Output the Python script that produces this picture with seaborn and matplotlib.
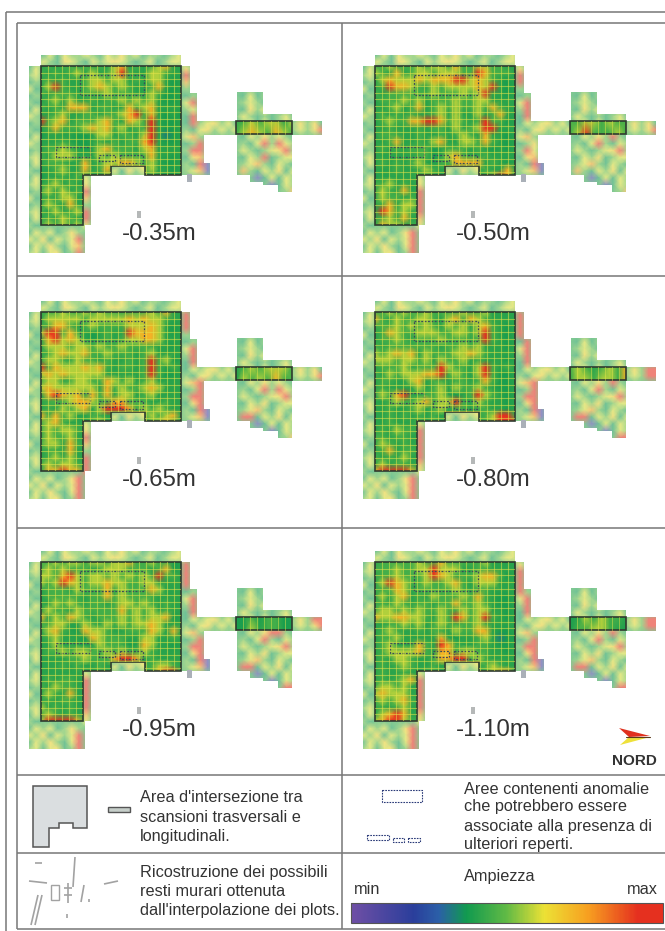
"""
Sezioni GPR a diverse profondita' - mappe di ampiezza con legenda
"""

import numpy as np
import matplotlib
matplotlib.use('Agg')
import matplotlib.pyplot as plt
from matplotlib.colors import LinearSegmentedColormap, to_rgb
from matplotlib.patches import Polygon, Rectangle, PathPatch
from matplotlib.path import Path
from matplotlib.transforms import Affine2D
import seaborn as sns

DEPTHS = ['-0.35m', '-0.50m', '-0.65m', '-0.80m', '-0.95m', '-1.10m']

# amplitude classes, one char per cell ('.' = no data)
BUILD_035 = ["56566565657856567855", "65656757567965577655", "56565567767756577545", "57965567876765568545",
             "65666566676665576445", "56757556566767675445", "65658885665586785555", "55675566566789685454",
             "96785666786587695445", "56866678786756695445", "45555445775665795345", "55565445656566895445",
             "56676545786665785555", "65777555767666685545", "56665585677887675445", "5567558568.....75545",
             "4556565656.....55445", "567565", "675756", "565775", "576585", "657567", "565765", "676767"]
BUILD_050 = ["66766676776866776655", "76585677677766986665", "57877787888997876545", "56988765767777879545",
             "65666666766676795545", "56667675666766775555", "55675685676766768655", "56565655675755756855",
             "56766889986765696645", "55655565665756799555", "56665565565676585545", "55685565785577686545",
             "56565666456665654545", "55555566457865565555", "56565675466888856545", "5556556765.....65585",
             "4555556565.....67985", "667565", "576585", "576656", "568577", "598676", "567585", "587756"]
BUILD_065 = ["56676676766566676855", "57777767777787877655", "56886567666677787545", "79968654565598887545",
             "58978754565677887555", "57776776766766665545", "56787786676665675555", "57765766565565696745",
             "96877787865665696565", "78787777755555696445", "67756776687675675555", "78777777586766787555",
             "58987858685775675555", "56667887668866655655", "56576785799986767655", "8686755665.....76785",
             "6786555675.....67865", "676776", "576675", "677586", "566585", "567575", "676776", "588988"]
BUILD_080 = ["66767667666676675555", "86576677657868765555", "66676767657675786545", "56876677766776796545",
             "56676566676665696545", "65666666656676755545", "76787857666778765555", "77767767576675655545",
             "56667566697665796565", "65767778896765796445", "56655785665665686445", "56555575675766765445",
             "57689556675456976545", "55676678677965765545", "55655675675665665545", "5565656565.....67996",
             "5565556565.....67999", "565766", "665665", "576565", "568566", "656575", "575665", "899998"]
BUILD_095 = ["66767767767786676645", "67676665677766656845", "77689767767676769665", "76798767787766775555",
             "56665766685766687555", "56666656686766665555", "55767656656776765655", "57665766666867675655",
             "85768765666767677845", "66775576576767787555", "57865487765566687585", "56755548766655775565",
             "55755545766645875545", "56676776676766765555", "55556676668998565555", "5556565565.....67765",
             "5555556565.....68996", "565665", "657665", "576585", "565665", "756565", "676565", "799998"]
BUILD_110 = ["56666676686666675555", "66676677977755665555", "56676667987566788645", "57987667667865777555",
             "56687566666765665555", "57578565766676865445", "56576566566866765445", "67767676676676775545",
             "87788776576986796545", "55667675676666765555", "56765565665766885445", "56675555585455675344",
             "56755586598655665445", "56777786588677665545", "56577655688996765555", "5656765565.....67655",
             "5655655665.....67885", "565678", "677675", "787775", "676786", "565675", "578985", "789976"]
BUILDS = [BUILD_035, BUILD_050, BUILD_065, BUILD_080, BUILD_095, BUILD_110]

# second intersection area (the small box on the right)
BOXES = [["56767757", "67876876"], ["66776766", "67966676"], ["46767776", "47676866"],
         ["67656768", "57767768"], ["44646644", "44756644"], ["45757665", "46677654"]]

# single-scan coverage around the building, about the same at every depth
OUTER = ["..46465565465756455456",
         "..65476546567654564566",
         "46....................7",
         "56....................6",
         "45....................8",
         "64....................5",
         "45....................45......4645",
         "54....................69......5654",
         "46....................56......4756",
         "65....................49......65454564",
         "45....................46567564564645657574",
         "54....................54675656456756456579",
         "46....................685.....46575654",
         "65....................457.....54695465",
         "45....................596.....65456795",
         "56....................478.....46574566",
         "46..........47567.....5491....56854654",
         "54..........64756.....5681....85465746",
         "46......6.......................146465",
         "56......7.........................1465",
         "45......9...........................58",
         "64......8",
         "45......5",
         "56......9",
         "46......8",
         "54......6",
         "46564575",
         "65746569",
         "46575468",
         "56467459"]

# pink patches of the outer scans, (row, col) per depth
HOT_035 = [(3, 22), (10, 23), (13, 24), (14, 24), (13, 35), (15, 33), (24, 8), (27, 7)]
HOT_050 = [(3, 22), (4, 22), (7, 23), (8, 23), (12, 35), (21, 8), (22, 8), (26, 7), (27, 7), (28, 7), (29, 7)]
HOT_065 = [(2, 22), (3, 22), (4, 22), (7, 23), (8, 23), (12, 24), (13, 24), (14, 24), (15, 24), (13, 35),
           (17, 30), (17, 31), (24, 8), (25, 8), (26, 7), (27, 7), (28, 7), (29, 7)]
HOT_080 = [(2, 22), (3, 22), (4, 22), (5, 22), (6, 23), (7, 23), (8, 23), (12, 24), (13, 24), (14, 24), (15, 24),
           (11, 35), (12, 35), (19, 8), (20, 8), (21, 8), (22, 8), (23, 8), (26, 7), (27, 7), (28, 7), (29, 7),
           (20, 36), (20, 37), (10, 40), (10, 41), (11, 40), (11, 41), (17, 30), (17, 31)]
HOT_095 = [(2, 22), (3, 22), (4, 22), (5, 22), (7, 23), (8, 23), (13, 24), (14, 24), (15, 24), (19, 8), (20, 8),
           (21, 8), (22, 8), (23, 8), (27, 7), (28, 7), (29, 7), (10, 40), (10, 41), (11, 41), (17, 30), (17, 31),
           (20, 36), (20, 37), (12, 34), (12, 35)]
HOT_110 = [(3, 22), (4, 22), (5, 22), (6, 22), (8, 23), (9, 23), (13, 24), (14, 24), (15, 24), (19, 8), (20, 8),
           (21, 8), (22, 8), (23, 8), (26, 7), (27, 7), (28, 7), (29, 7), (10, 40), (10, 41), (11, 40), (11, 41),
           (17, 30), (17, 31), (20, 36), (20, 37), (12, 35)]
HOTS = [HOT_035, HOT_050, HOT_065, HOT_080, HOT_095, HOT_110]

# colour position of each amplitude class on the scale
LEVELS = [0.0, 0.11, 0.22, 0.33, 0.385, 0.41, 0.45, 0.57, 0.72, 1.0]
OUTER_LEVELS = [0.0, 0.11, 0.22, 0.33, 0.37, 0.5, 0.6, 0.66, 0.76, 1.0]

SCALE_STOPS = [(0.0, '#6f4fa5'), (0.2, '#2a3e9b'), (0.28, '#2b5fa8'), (0.37, '#119a4f'), (0.5, '#62ba45'),
               (0.62, '#ece135'), (0.76, '#f7a020'), (0.92, '#e5301f'), (1.0, '#e5301f')]

LEGEND_1 = ["Area d'intersezione tra", "scansioni trasversali e", "longitudinali."]
LEGEND_2 = ["Aree contenenti anomalie", "che potrebbero essere", "associate alla presenza di", "ulteriori reperti."]
LEGEND_3 = ["Ricostruzione dei possibili", "resti murari ottenuta", "dall'interpolazione dei plots."]

W, H = 665, 931
FRAME = '#777777'
INK = '#333333'
NAVY = '#2a3a78'

# building corners of each panel, in pixels
ORIGINS = [(41, 66), (375, 66), (41, 312), (375, 312), (41, 562), (375, 562)]

BUILDING_OUTLINE = [(0, 0), (140, 0), (140, 109), (104, 109), (104, 100), (70, 100), (70, 109), (42, 109),
                    (42, 159), (0, 159)]
# covered area of the outer scans, rectangles relative to the building corner
OUTER_AREA = [(0, -11, 140, 11), (-12, 0, 12, 187), (0, 0, 140, 109), (0, 109, 50, 50), (-12, 159, 56, 28),
              (140, 0, 9, 109), (149, 27, 7, 82), (156, 69, 7, 40), (163, 97, 6, 12), (156, 55, 125, 14),
              (196, 26, 26, 22), (196, 48, 55, 61), (209, 109, 42, 7), (222, 109, 29, 10), (237, 109, 14, 17)]

cmap = LinearSegmentedColormap.from_list('ampiezza', SCALE_STOPS)
# same scale washed out, the single scans look like this
pastel = LinearSegmentedColormap.from_list(
    'ampiezza_pastel', [(p, tuple(0.6 * np.array(to_rgb(c)) + 0.4)) for p, c in SCALE_STOPS])


def to_grid(rows, width, levels=LEVELS):
    """Turn the char rows into a float array of colour positions"""
    grid = np.full((len(rows), width), 0.42)
    for r, row in enumerate(rows):
        for c, ch in enumerate(row):
            if ch != '.':
                grid[r, c] = levels[int(ch)]
    return grid


def pixel_axes(fig, x, y, w, h):
    return fig.add_axes([x / W, 1 - (y + h) / H, w / W, h / H])


def draw_map(fig, grid, box, clip, colors):
    ax = pixel_axes(fig, *box)
    sns.heatmap(grid, ax=ax, cmap=colors, vmin=0, vmax=1, cbar=False, shading='gouraud',
                xticklabels=False, yticklabels=False)
    ax.set_xlim(0, grid.shape[1] - 1)
    ax.set_ylim(grid.shape[0] - 1, 0)
    ax.axis('off')
    ax.collections[0].set_clip_path(clip)
    return ax


def draw_panel(fig, over, i):
    x0, y0 = ORIGINS[i]

    # outer scans, pastel
    outer = to_grid(OUTER, 42, OUTER_LEVELS)
    for r, c in HOTS[i]:
        outer[r, c] = 1.0
    paths = [Path.unit_rectangle().transformed(Affine2D().scale(w, h).translate(x0 + a, y0 + b))
             for a, b, w, h in OUTER_AREA]
    area = PathPatch(Path.make_compound_path(*paths), transform=over.transData)
    draw_map(fig, outer, (x0 - 12, y0 - 11, 293, 198), area, pastel)

    # building + right box, saturated
    shape = Polygon([(x0 + a, y0 + b) for a, b in BUILDING_OUTLINE], closed=True, transform=over.transData)
    draw_map(fig, to_grid(BUILDS[i], 20), (x0, y0, 140, 159), shape, cmap)
    box = Rectangle((x0 + 195, y0 + 55), 56, 13, transform=over.transData)
    draw_map(fig, to_grid(BOXES[i], 8), (x0 + 195, y0 + 55, 56, 13), box, cmap)

    # scan grid over the building
    grid_clip = Polygon([(x0 + a, y0 + b) for a, b in BUILDING_OUTLINE], closed=True, transform=over.transData)
    for k in range(1, 20):
        line, = over.plot([x0 + k * 7, x0 + k * 7], [y0, y0 + 159], color='#e4e34a', lw=0.8, alpha=0.55)
        line.set_clip_path(grid_clip)
    for k in range(1, 24):
        line, = over.plot([x0, x0 + 140], [y0 + k * 6.625, y0 + k * 6.625], color='#e4e34a', lw=0.8, alpha=0.55)
        line.set_clip_path(grid_clip)
    for k in range(1, 8):
        over.plot([x0 + 195 + k * 7, x0 + 195 + k * 7], [y0 + 55, y0 + 68], color='#e4e34a', lw=0.7, alpha=0.5)

    # outlines
    over.add_patch(Polygon([(x0 + a, y0 + b) for a, b in BUILDING_OUTLINE], closed=True, fill=False, ec='#2f3a2f', lw=1.2))
    over.add_patch(Rectangle((x0 + 195, y0 + 55), 56, 13, fill=False, ec='#2f3a2f', lw=1.2))

    # dashed anomaly boxes
    for a, b, w, h in [(39, 9, 64, 20), (15, 81, 34, 10), (58, 89, 16, 6), (79, 89, 23, 8)]:
        over.add_patch(Rectangle((x0 + a, y0 + b), w, h, fill=False, ec='#3c4a5a', lw=0.9, ls=(0, (1.5, 1.2))))

    # grey markers
    over.add_patch(Rectangle((x0 + 96, y0 + 145), 4, 7, fc='#b5b8b8', ec='none'))
    over.add_patch(Rectangle((x0 + 146, y0 + 108), 5, 8, fc='#aab0b8', ec='none'))

    over.text(x0 + 118, y0 + 174, DEPTHS[i], fontsize=17.3, color=INK, ha='center', va='baseline')


def draw_frame(over):
    lines = [((6, 12), (665, 12)), ((6, 12), (6, 931)), ((17, 23), (665, 23)), ((17, 23), (17, 929)),
             ((17, 929), (665, 929)), ((342, 23), (342, 929)), ((17, 276), (665, 276)), ((17, 528), (665, 528)),
             ((17, 775), (665, 775)), ((17, 853), (665, 853))]
    for (xa, ya), (xb, yb) in lines:
        over.plot([xa, xb], [ya, yb], color=FRAME, lw=1.1, solid_capstyle='butt')


def draw_legend(fig, over):
    # building icon
    icon = [(33, 786), (87, 786), (87, 828), (73, 828), (73, 823), (59, 823), (59, 828), (49, 828), (49, 847), (33, 847)]
    over.add_patch(Polygon(icon, closed=True, fc='#dadee0', ec='#555555', lw=1.1))
    over.add_patch(Rectangle((108, 807), 22, 5, fc='#c6cec9', ec='#555555', lw=1.0))

    for line, y in zip(LEGEND_1, [798, 817, 836]):
        over.text(140, y, line, fontsize=11.7, color=INK, va='center')
    for line, y in zip(LEGEND_2, [789, 807, 826, 845]):
        over.text(464, y, line, fontsize=11.7, color=INK, va='center')
    for line, y in zip(LEGEND_3, [872, 891, 910]):
        over.text(140, y, line, fontsize=11.7, color=INK, va='center')

    # anomaly symbols
    for a, b, w, h in [(382, 790, 40, 12), (367, 835, 22, 5), (393, 838, 11, 4), (408, 838, 12, 4)]:
        over.add_patch(Rectangle((a, b), w, h, fill=False, ec=NAVY, lw=0.8, ls=(0, (1.5, 1.0))))

    # wall reconstruction sketch
    walls = [((35, 42), (863, 863)), ((75, 73), (857, 887)), ((29, 47), (881, 883)), ((68, 68), (883, 903)),
             ((64, 72), (888, 888)), ((64, 72), (895, 895)), ((84, 81), (885, 902)), ((104, 118), (884, 881)),
             ((42, 35), (895, 925)), ((38, 31), (895, 925)), ((67, 67), (914, 918)), ((89, 89), (899, 902))]
    for xs, ys in walls:
        over.plot(xs, ys, color='#a2a2a2', lw=1.2, solid_capstyle='butt')
    over.add_patch(Rectangle((51, 885), 8, 15, fill=False, ec='#a2a2a2', lw=1.0))

    # amplitude scale
    over.text(464, 877, 'Ampiezza', fontsize=11.7, color=INK, va='center')
    over.text(354, 889, 'min', fontsize=11.7, color=INK, va='center')
    over.text(658, 889, 'max', fontsize=11.7, color=INK, va='center', ha='right')
    ax = pixel_axes(fig, 351, 903, 312, 20)
    sns.heatmap(np.linspace(0, 1, 256)[None, :], ax=ax, cmap=cmap, vmin=0, vmax=1, cbar=False,
                xticklabels=False, yticklabels=False)
    ax.axis('off')
    over.add_patch(Rectangle((351, 903), 312, 20, fill=False, ec='#555555', lw=0.8))

    # north arrow
    over.add_patch(Polygon([(619, 728), (650, 736), (629, 737)], closed=True, fc='#e0301e', ec='none'))
    over.add_patch(Polygon([(629, 737), (650, 737), (620, 745)], closed=True, fc='#eee13a', ec='none'))
    over.plot([626, 650], [736.5, 736.5], color='#5a3a1a', lw=0.8)
    over.text(634, 761, 'NORD', fontsize=11, fontweight='bold', color=INK, ha='center', va='center')


def main():
    sns.set_theme(style='white')
    plt.rcParams['font.family'] = ['Liberation Sans', 'DejaVu Sans']

    fig = plt.figure(figsize=(W / 100, H / 100), dpi=100, facecolor='white')

    over = fig.add_axes([0, 0, 1, 1], zorder=10)
    over.set_xlim(0, W)
    over.set_ylim(H, 0)
    over.axis('off')
    over.patch.set_alpha(0)

    draw_frame(over)
    for i in range(len(DEPTHS)):
        draw_panel(fig, over, i)
    draw_legend(fig, over)

    fig.savefig('out.png', dpi=100, facecolor='white')
    plt.close(fig)


if __name__ == "__main__":
    main()
